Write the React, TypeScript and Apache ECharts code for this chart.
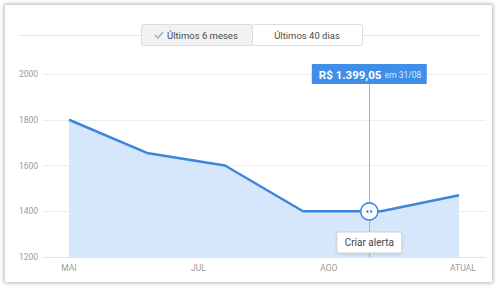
import React, { useEffect, useRef } from "react";
import * as echarts from "echarts";

const pointIndex = [0, 1, 2, 3, 4, 5];
const prices = [1800, 1655, 1600, 1400, 1400, 1470];
const monthLabels = ["MAI", "JUL", "AGO", "ATUAL"];
const monthPositions = [0, 1.66, 3.33, 5.05];
const yMin = 1200;
const yMax = 2000;
const yStep = 200;
const markerX = 3.85;
const markerPrice = 1399.05;
const markerPriceText = "R$ 1.399,05";
const markerDateText = "em 31/08";
const buttonLabels = ["Últimos 6 meses", "Últimos 40 dias"];
const alertLabel = "Criar alerta";

const FONT = "Roboto, 'Liberation Sans', Arial, sans-serif";

export default function App() {
  const ref = useRef<HTMLDivElement>(null);
  useEffect(() => {
    document.body.style.margin = "0";
    const chart = echarts.init(ref.current!, null, { renderer: "svg" });
    chart.setOption({
      animation: false,
      grid: { left: 43, right: 14, top: 74, bottom: 31 },
      xAxis: {
        type: "value",
        min: -0.333,
        max: 5.346,
        axisLine: { show: true, lineStyle: { color: "#e4e4e4", width: 1 } },
        axisTick: { show: false },
        splitLine: { show: false },
        axisLabel: {
          customValues: monthPositions,
          color: "#9a9a9a",
          fontSize: 8.5,
          fontFamily: FONT,
          margin: 6,
          formatter: (v: number) => {
            let best = 0;
            monthPositions.forEach((p, i) => {
              if (Math.abs(p - v) < Math.abs(monthPositions[best] - v)) best = i;
            });
            return monthLabels[best];
          },
        },
      },
      yAxis: {
        type: "value",
        min: yMin,
        max: yMax,
        interval: yStep,
        axisLine: { show: false },
        axisTick: { show: false },
        splitLine: { lineStyle: { color: "#ededed", width: 1 } },
        axisLabel: {
          color: "#9a9a9a",
          fontSize: 8.5,
          fontFamily: FONT,
          margin: 5,
          formatter: (v: number) => String(v),
        },
      },
      series: [
        {
          type: "line",
          data: pointIndex.map((x, i) => [x, prices[i]]),
          symbol: "none",
          lineStyle: { color: "#3b87dd", width: 2.5 },
          areaStyle: { color: "#d6e6fb", opacity: 1 },
          z: 3,
        },
      ],
    });

    const [mx, my] = chart.convertToPixel({ xAxisIndex: 0, yAxisIndex: 0 }, [markerX, markerPrice]) as number[];
    const [, baseY] = chart.convertToPixel({ xAxisIndex: 0, yAxisIndex: 0 }, [markerX, yMin]) as number[];
    const tipW = 115;
    const tipH = 20;
    const tipTop = 64;
    const btnW = 65;
    const btnH = 21;
    const btnTop = 232;

    chart.setOption({
      graphic: [
        { type: "line", shape: { x1: 19, y1: 35.5, x2: 141, y2: 35.5 }, style: { stroke: "#e6e6e6", lineWidth: 1 }, z: 1 },
        { type: "line", shape: { x1: 362, y1: 35.5, x2: 480, y2: 35.5 }, style: { stroke: "#e6e6e6", lineWidth: 1 }, z: 1 },
        { type: "rect", shape: { x: 141.5, y: 24.5, width: 111, height: 21, r: 2 }, style: { fill: "#f2f2f2", stroke: "#dcdcdc", lineWidth: 1 }, z: 5 },
        { type: "rect", shape: { x: 252.5, y: 24.5, width: 110, height: 21, r: 2 }, style: { fill: "#ffffff", stroke: "#dcdcdc", lineWidth: 1 }, z: 5 },
        { type: "polyline", shape: { points: [[155, 35], [158, 38], [163, 32]] }, style: { stroke: "#aaaaaa", lineWidth: 1.5, fill: null }, z: 6 },
        { type: "text", x: 167, y: 35, style: { text: buttonLabels[0], fill: "#4a4a4a", fontSize: 9.5, fontFamily: FONT, verticalAlign: "middle", align: "left" }, z: 6 },
        { type: "text", x: 307, y: 35, style: { text: buttonLabels[1], fill: "#4a4a4a", fontSize: 9.5, fontFamily: FONT, verticalAlign: "middle", align: "center" }, z: 6 },
        { type: "line", shape: { x1: Math.round(mx) + 0.5, y1: tipTop + tipH, x2: Math.round(mx) + 0.5, y2: baseY }, style: { stroke: "#9fb2c6", lineWidth: 1 }, z: 10 },
        { type: "rect", shape: { x: mx - tipW / 2, y: tipTop, width: tipW, height: tipH, r: 1 }, style: { fill: "#3f8fe8" }, z: 11 },
        {
          type: "text",
          x: mx - tipW / 2 + 7,
          y: tipTop + tipH / 2 + 0.5,
          style: {
            text: `{a|${markerPriceText}} {b|${markerDateText}}`,
            verticalAlign: "middle",
            align: "left",
            rich: {
              a: { fill: "#ffffff", fontSize: 11.5, fontWeight: "bold", fontFamily: FONT },
              b: { fill: "#d8e8fb", fontSize: 8.5, fontFamily: FONT },
            },
          },
          z: 12,
        },
        { type: "circle", shape: { cx: mx, cy: my, r: 8.5 }, style: { fill: "#ffffff", stroke: "#3b87dd", lineWidth: 1.5 }, z: 12 },
        { type: "polygon", shape: { points: [[mx - 1, my - 2], [mx - 1, my + 2], [mx - 3.5, my]] }, style: { fill: "#3b87dd" }, z: 13 },
        { type: "polygon", shape: { points: [[mx + 1, my - 2], [mx + 1, my + 2], [mx + 3.5, my]] }, style: { fill: "#3b87dd" }, z: 13 },
        {
          type: "rect",
          shape: { x: mx - btnW / 2, y: btnTop, width: btnW, height: btnH, r: 2 },
          style: { fill: "#ffffff", stroke: "#cfcfcf", lineWidth: 1, shadowBlur: 2, shadowColor: "rgba(0,0,0,0.12)", shadowOffsetY: 1 },
          z: 12,
        },
        { type: "text", x: mx, y: btnTop + btnH / 2, style: { text: alertLabel, fill: "#444444", fontSize: 10, fontFamily: FONT, align: "center", verticalAlign: "middle" }, z: 13 },
      ],
    });
    return () => chart.dispose();
  }, []);

  return (
    <div style={{ position: "fixed", left: 0, top: 0, width: 500, height: 288, background: "#ffffff" }}>
      <div
        style={{
          position: "absolute",
          left: 5,
          top: 5,
          width: 487,
          height: 277,
          background: "#ffffff",
          boxShadow: "0 0 4px 1px rgba(0,0,0,0.3)",
        }}
      />
      <div ref={ref} style={{ position: "absolute", left: 0, top: 0, width: 500, height: 288 }} />
    </div>
  );
}
